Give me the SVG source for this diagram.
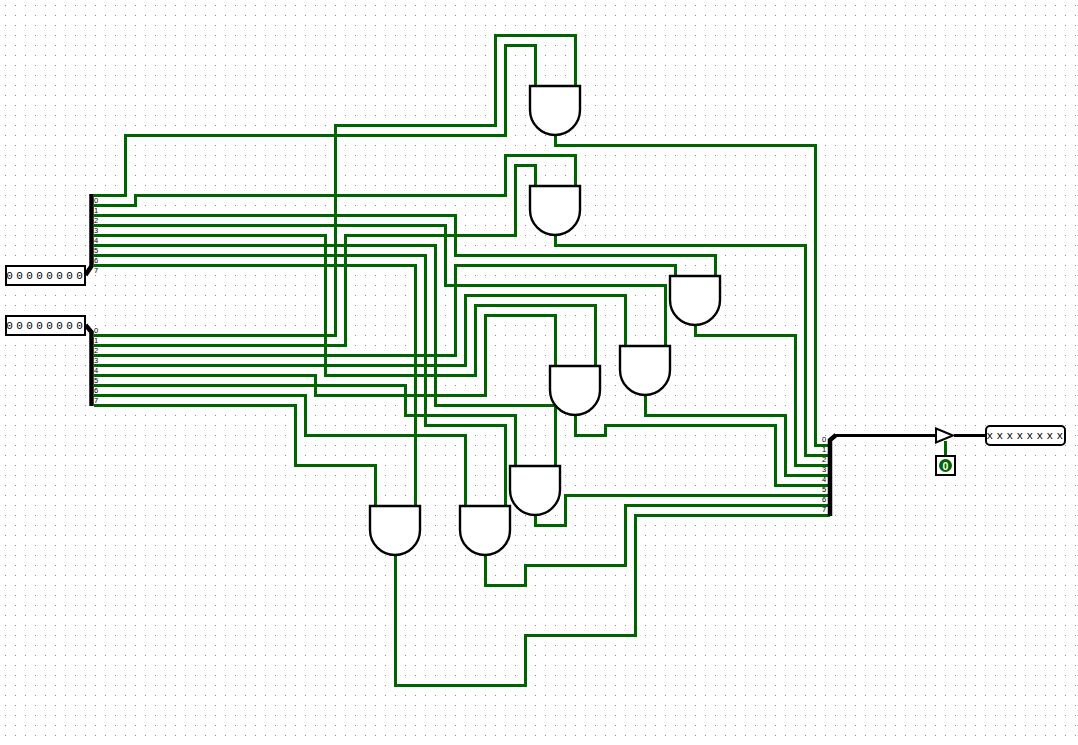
<svg xmlns="http://www.w3.org/2000/svg" width="1078" height="745" viewBox="0 0 1078 745">
<style>
.w{fill:none;stroke:#006400;stroke-width:3;stroke-linejoin:miter;stroke-linecap:square}
.b{fill:none;stroke:#000;stroke-width:3;stroke-linecap:square}
.g{fill:#fff;stroke:#000;stroke-width:2.4}
.p{fill:#fff;stroke:#000;stroke-width:2}
.t{font-family:"Liberation Mono","DejaVu Sans Mono",monospace;font-size:11px;fill:#000}
.s{font-family:"Liberation Sans",Arial,sans-serif;font-size:7.5px;fill:#000;text-anchor:middle}
</style>
<defs>
<pattern id="grid" width="10" height="10" patternUnits="userSpaceOnUse"><rect x="5" y="5" width="1" height="1" fill="#8c8c8c"/></pattern>
<path id="and" d="M0,0H50V24A25,25 0 0 1 0,24Z"/>
</defs>
<rect width="1078" height="745" fill="#fff"/>
<rect width="1078" height="740" fill="url(#grid)"/>
<g id="connectors">
<g transform="translate(0.5,0.5)">
<path class="w" d="M95,195H125V135H505V45H535V85"/>
<path class="w" d="M95,335H335V125H495V35H575V85"/>
<path class="w" d="M95,205H135V195H505V155H575V185"/>
<path class="w" d="M95,345H345V235H515V165H535V185"/>
<path class="w" d="M95,215H455V255H715V275"/>
<path class="w" d="M95,355H455V265H675V275"/>
<path class="w" d="M95,225H445V285H665V345"/>
<path class="w" d="M95,365H465V295H625V345"/>
<path class="w" d="M95,235H325V375H475V305H595V365"/>
<path class="w" d="M95,375H315V395H485V315H555V365"/>
<path class="w" d="M95,245H435V405H555V465"/>
<path class="w" d="M95,385H405V415H515V465"/>
<path class="w" d="M95,255H425V425H505V505"/>
<path class="w" d="M95,395H305V435H465V505"/>
<path class="w" d="M95,265H415V505"/>
<path class="w" d="M95,405H295V465H375V505"/>
<path class="w" d="M555,135V145H815V445H828"/>
<path class="w" d="M555,235V245H805V455H828"/>
<path class="w" d="M695,325V335H795V465H828"/>
<path class="w" d="M645,395V415H785V475H828"/>
<path class="w" d="M575,415V435H605V425H775V485H828"/>
<path class="w" d="M535,515V525H565V495H828"/>
<path class="w" d="M485,555V585H525V565H625V505H828"/>
<path class="w" d="M395,555V685H525V635H635V515H828"/>
<path class="w" d="M945,442V455"/>
<path class="b" d="M835,435H935"/>
<path class="b" d="M955,435H985"/>
</g>
</g>
<g id="input-a">
<rect class="p" x="6" y="266" width="79" height="19"/>
<text class="t" x="6.3" y="279" letter-spacing="3.4">00000000</text>
</g>
<g id="input-b">
<rect class="p" x="6" y="316" width="79" height="19"/>
<text class="t" x="6.3" y="329" letter-spacing="3.4">00000000</text>
</g>
<g id="splitter-a">
<path d="M91.5,194V266L85.5,275" fill="none" stroke="#000" stroke-width="4.5"/>
<g class="s"><text class="s" x="96" y="203">0</text><text class="s" x="96" y="213">1</text><text class="s" x="96" y="223">2</text><text class="s" x="96" y="233">3</text><text class="s" x="96" y="243">4</text><text class="s" x="96" y="253">5</text><text class="s" x="96" y="263">6</text><text class="s" x="96" y="273">7</text></g>
</g>
<g id="splitter-b">
<path d="M85.5,325L91.5,332V406" fill="none" stroke="#000" stroke-width="4.5"/>
<text class="s" x="96" y="333">0</text><text class="s" x="96" y="343">1</text><text class="s" x="96" y="353">2</text><text class="s" x="96" y="363">3</text><text class="s" x="96" y="373">4</text><text class="s" x="96" y="383">5</text><text class="s" x="96" y="393">6</text><text class="s" x="96" y="403">7</text>
</g>
<g id="splitter-out">
<path d="M830,516V440L836,435" fill="none" stroke="#000" stroke-width="4.5"/>
<text class="s" x="824" y="442">0</text><text class="s" x="824" y="452">1</text><text class="s" x="824" y="462">2</text><text class="s" x="824" y="472">3</text><text class="s" x="824" y="482">4</text><text class="s" x="824" y="492">5</text><text class="s" x="824" y="502">6</text><text class="s" x="824" y="512">7</text>
</g>
<g id="and-1"><use href="#and" class="g" x="530" y="86"/></g>
<g id="and-2"><use href="#and" class="g" x="530" y="186"/></g>
<g id="and-3"><use href="#and" class="g" x="670" y="276"/></g>
<g id="and-4"><use href="#and" class="g" x="620" y="346"/></g>
<g id="and-5"><use href="#and" class="g" x="550" y="366"/></g>
<g id="and-6"><use href="#and" class="g" x="510" y="466"/></g>
<g id="and-7"><use href="#and" class="g" x="460" y="506"/></g>
<g id="and-8"><use href="#and" class="g" x="370" y="506"/></g>
<g id="buffer"><path d="M936,428.500L953,435.500L936,442.500Z" fill="#fff" stroke="#000" stroke-width="2"/></g>
<g id="enable">
<rect class="p" x="936" y="456" width="19" height="19"/>
<circle cx="945.500" cy="465.500" r="6.500" fill="#006400"/>
<text x="945.500" y="469.500" font-family="Liberation Sans, Arial, sans-serif" font-size="10.500px" font-weight="bold" fill="#fff" text-anchor="middle">0</text>
</g>
<g id="output">
<rect class="p" x="986" y="426" width="79" height="19" rx="4" ry="4"/>
<text class="t" x="986.500" y="439" letter-spacing="3.400">xxxxxxxx</text>
</g>
</svg>
